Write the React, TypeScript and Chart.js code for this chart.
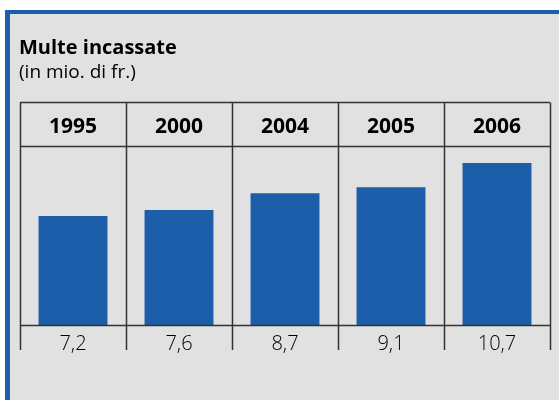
import React, { useEffect, useRef } from "react";
import { Chart, registerables } from "chart.js";

Chart.register(...registerables);

const title = "Multe incassate";
const subtitle = "(in mio. di fr.)";
const years = ["1995", "2000", "2004", "2005", "2006"];
const values = [7.2, 7.6, 8.7, 9.1, 10.7];
const valueLabels = ["7,2", "7,6", "8,7", "9,1", "10,7"];

const BLUE = "#1c5ea9";
const GRAY = "#e1e1e1";
const LINE = "#333333";
const FONT = "'Open Sans', 'Noto Sans', sans-serif";

export default function App() {
  const ref = useRef<HTMLCanvasElement | null>(null);

  useEffect(() => {
    if (!ref.current) return;
    const framePlugin = {
      id: "frame",
      beforeDraw(chart: any) {
        const c = chart.ctx;
        const W = chart.width;
        const H = chart.height;
        c.save();
        c.fillStyle = "#ffffff";
        c.fillRect(0, 0, W, H);
        c.fillStyle = GRAY;
        c.fillRect(5, 10, W - 5, H - 10);
        c.fillStyle = BLUE;
        c.fillRect(5, 10, W - 5, 4);
        c.fillRect(5, 10, 5, H - 10);
        c.fillStyle = "#000";
        c.textBaseline = "alphabetic";
        c.textAlign = "left";
        c.font = `bold 20px ${FONT}`;
        c.fillText(title, 19, 54);
        c.font = `400 19px ${FONT}`;
        c.fillText(subtitle, 19, 78);
        c.restore();
      },
      afterDatasetsDraw(chart: any) {
        const c = chart.ctx;
        const xs = chart.scales.x;
        const ys = chart.scales.y;
        const area = chart.chartArea;
        const n = years.length;
        const step = (area.right - area.left) / n;
        const base = Math.round(ys.getPixelForValue(0)) + 0.5;
        const tableTop = 102.5;
        const headBottom = 146.5;
        const tickBottom = 350;
        c.save();
        c.strokeStyle = LINE;
        c.lineWidth = 1.5;
        c.beginPath();
        c.moveTo(area.left, tableTop);
        c.lineTo(area.right, tableTop);
        c.moveTo(area.left, headBottom);
        c.lineTo(area.right, headBottom);
        c.moveTo(area.left, base);
        c.lineTo(area.right, base);
        for (let i = 0; i <= n; i++) {
          const bx = Math.round(area.left + i * step) + 0.5;
          c.moveTo(bx, tableTop);
          c.lineTo(bx, tickBottom);
        }
        c.stroke();
        c.fillStyle = "#000";
        c.textAlign = "center";
        c.textBaseline = "alphabetic";
        for (let i = 0; i < n; i++) {
          const cx = xs.getPixelForValue(i);
          c.font = `bold 21px ${FONT}`;
          c.fillText(years[i], cx, 132.5);
          c.font = `300 20px ${FONT}`;
          c.fillText(valueLabels[i], cx, 349.5);
        }
        c.restore();
      },
    };

    const chart = new Chart(ref.current, {
      type: "bar",
      data: {
        labels: years,
        datasets: [
          {
            data: values,
            backgroundColor: BLUE,
            borderWidth: 0,
            categoryPercentage: 1,
            barPercentage: 0.65,
          },
        ],
      },
      options: {
        responsive: false,
        animation: false,
        devicePixelRatio: 1,
        layout: { padding: { left: 20, right: 9, top: 146, bottom: 75 } },
        plugins: { legend: { display: false }, tooltip: { enabled: false }, title: { display: false } },
        scales: {
          x: { display: false, offset: true },
          y: { display: false, min: 0, max: 11.82 },
        },
      },
      plugins: [framePlugin],
    });
    return () => chart.destroy();
  }, []);

  return (
    <div style={{ position: "absolute", left: 0, top: 0, width: 559, height: 400 }}>
      <canvas ref={ref} width={559} height={400} style={{ display: "block" }} />
    </div>
  );
}
